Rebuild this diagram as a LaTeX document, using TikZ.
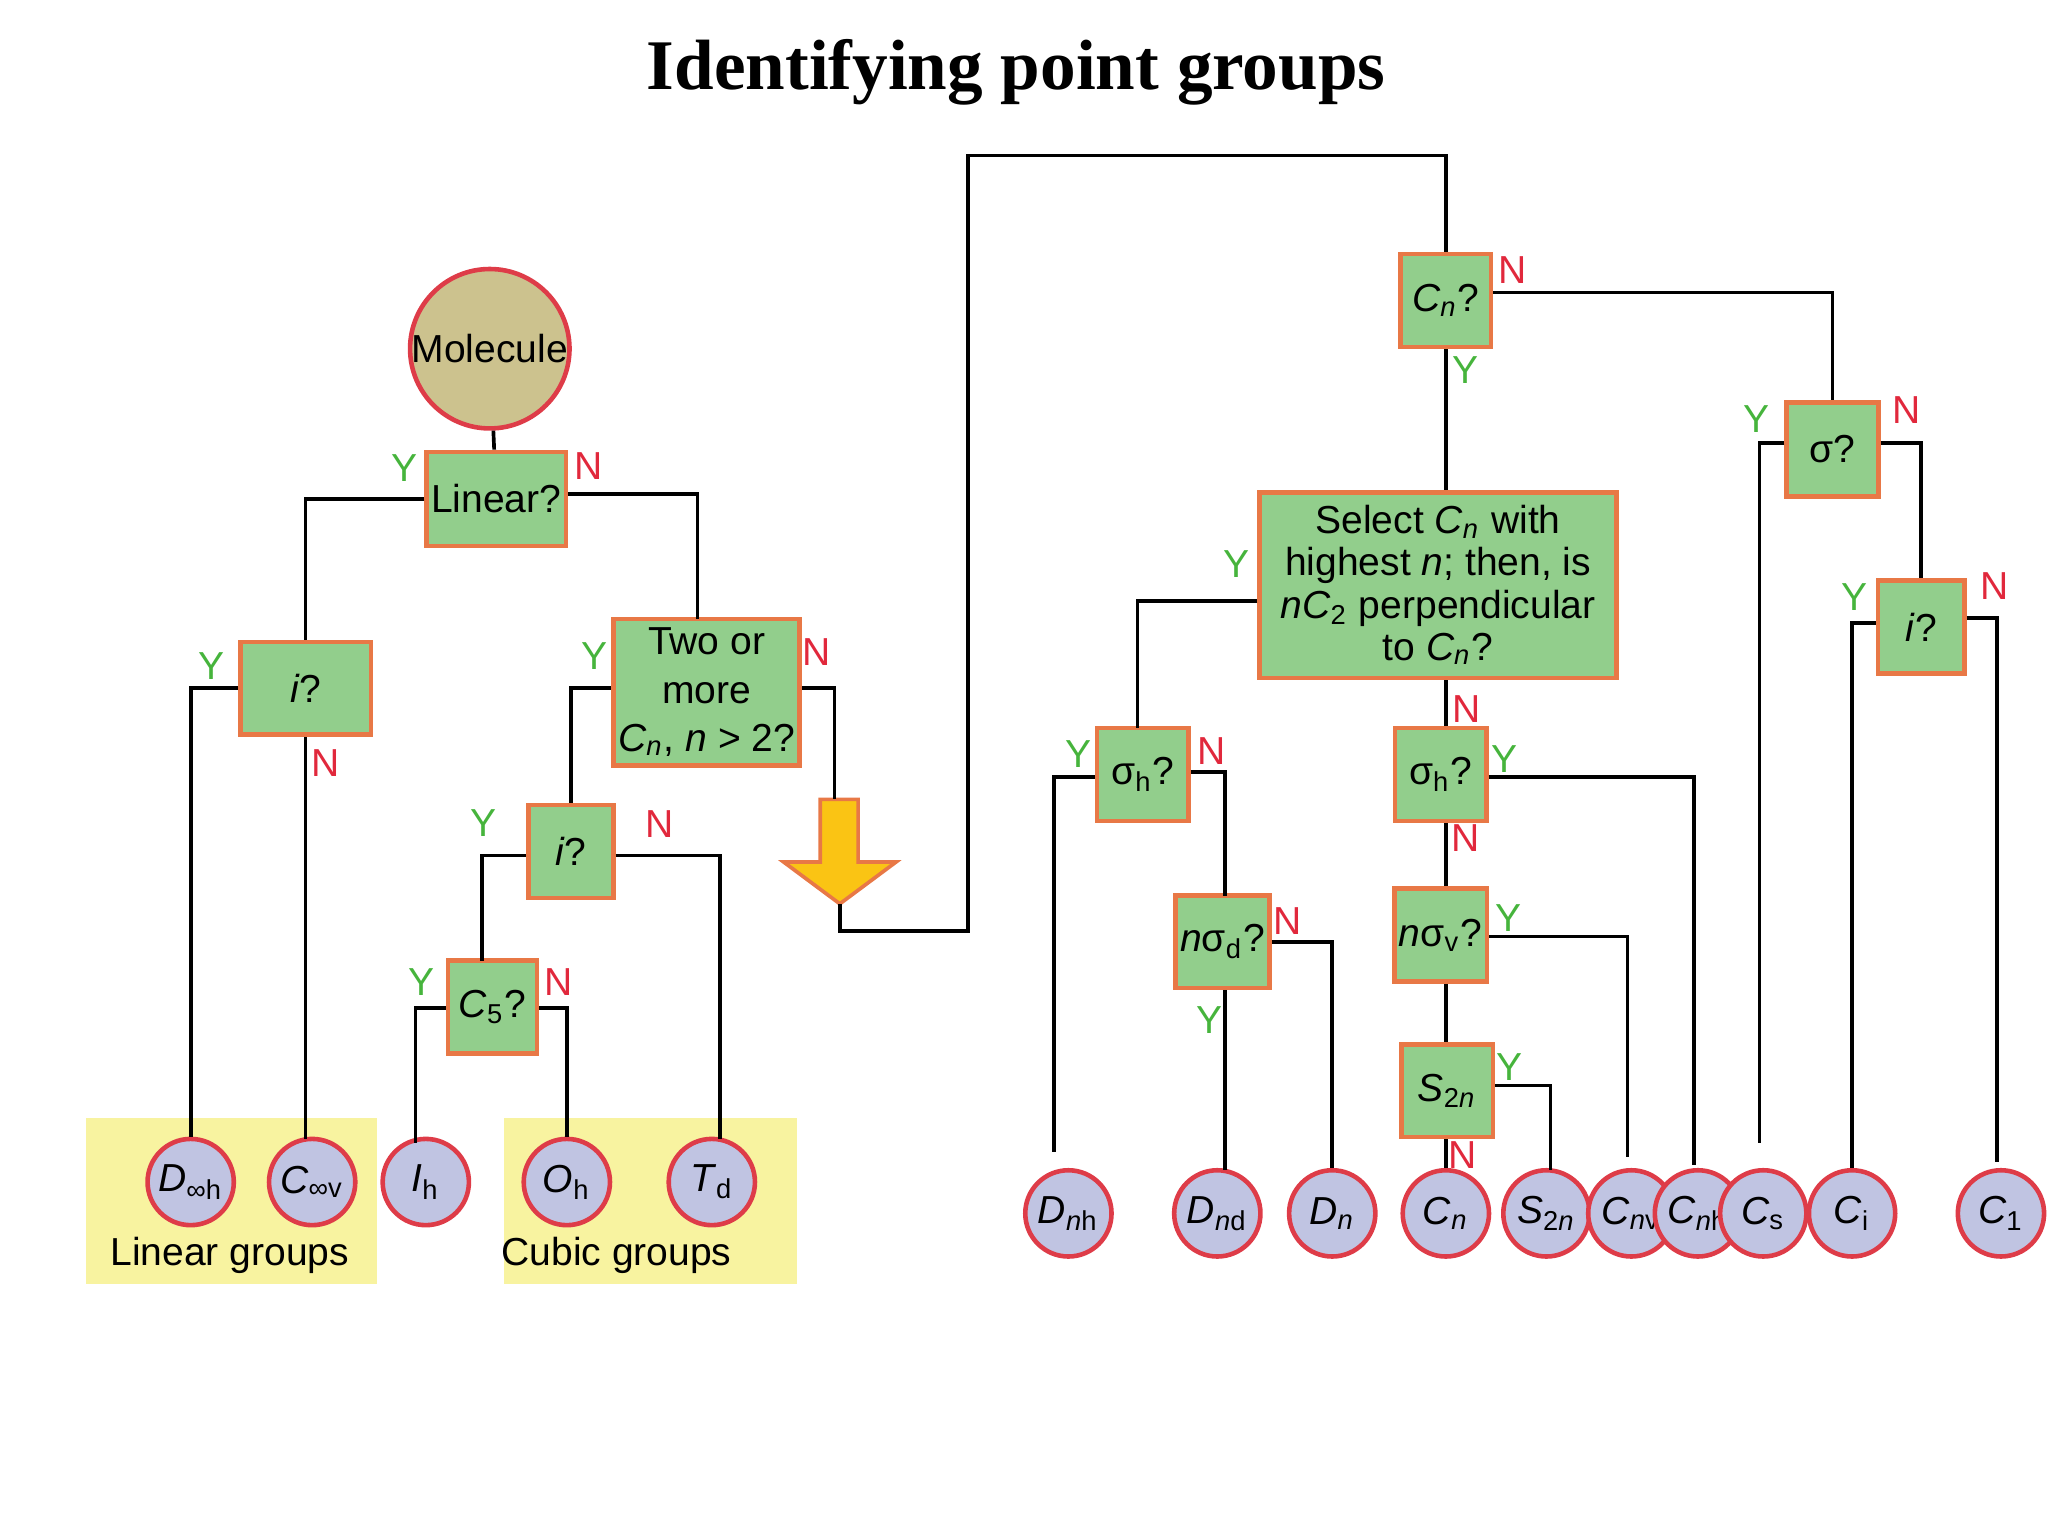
\documentclass[tikz,border=0pt]{standalone}
\usepackage{fontspec}
\setmainfont{Liberation Sans}
\newfontfamily\titlefont{Liberation Serif}
\usetikzlibrary{calc}
\definecolor{bfill}{RGB}{146,206,140}
\definecolor{bdraw}{RGB}{232,120,70}
\definecolor{cfill}{RGB}{192,196,226}
\definecolor{cdraw}{RGB}{222,60,72}
\definecolor{mfill}{RGB}{204,194,142}
\definecolor{yel}{RGB}{248,243,160}
\definecolor{ygreen}{RGB}{70,180,60}
\definecolor{nred}{RGB}{225,40,60}
\definecolor{arr}{RGB}{250,196,20}
\newcommand{\I}[1]{\textit{#1}}
\newcommand{\sub}[1]{\textsubscript{#1}}
\begin{document}
\begin{tikzpicture}[x=0.01cm,y=-0.01cm,
 box/.style={draw=bdraw,fill=bfill,line width=1pt,inner sep=1pt,align=center,font=\fontsize{8.5}{9.5}\selectfont},
 grp/.style={circle,draw=cdraw,fill=cfill,line width=1pt,minimum size=0.66cm,inner sep=0pt,font=\fontsize{8.5}{9.5}\selectfont},
 ln/.style={draw=black,line width=0.8pt},
 Y/.style={text=ygreen,font=\fontsize{8.5}{9.5}\selectfont},
 N/.style={text=nred,font=\fontsize{8.5}{9.5}\selectfont}]
\useasboundingbox (0,0) rectangle (1568,1176);
\node[font=\titlefont\bfseries\fontsize{15.5}{18}\selectfont] (title) at (778,55) {Identifying point groups};
% yellow areas
\fill[yel] (66,856) rectangle (289,983);
\fill[yel] (386,856) rectangle (610,983);
\node[font=\fontsize{8.5}{9.5}\selectfont] (lg) at (176,961) {Linear groups};
\node[font=\fontsize{8.5}{9.5}\selectfont] (cg) at (472,961) {Cubic groups};
% nodes
\node[circle,draw=cdraw,fill=mfill,line width=1pt,minimum size=1.22cm,inner sep=0pt,font=\fontsize{8.5}{9.5}\selectfont] (mol) at (375,267) {Molecule};
\node[box,minimum width=1cm,minimum height=0.72cm] (lin) at (380,382) {Linear?};
\node[box,minimum width=1cm,minimum height=0.71cm] (i1) at (234,527) {\I{i}?};
\node[box,minimum width=1.38cm,minimum height=1.12cm,font=\fontsize{8.5}{10.5}\selectfont] (two) at (541,530) {Two or\\more\\\I{C\sub{n}}, \I{n} > 2?};
\node[box,minimum width=0.65cm,minimum height=0.71cm] (i2) at (437,652) {\I{i}?};
\node[box,minimum width=0.68cm,minimum height=0.71cm] (c5) at (377,771) {\I{C}\sub{5}?};
\node[box,minimum width=0.69cm,minimum height=0.71cm] (cn) at (1107,230) {\I{C\sub{n}}?};
\node[box,minimum width=0.7cm,minimum height=0.72cm] (sig) at (1403,344) {σ?};
\node[box,minimum width=0.66cm,minimum height=0.71cm] (i3) at (1471,480) {\I{i}?};
\node[box,minimum width=2.73cm,minimum height=1.42cm,font=\fontsize{8.5}{9.2}\selectfont] (sel) at (1101,448) {Select \I{C\sub{n}} with\\highest \I{n}; then, is\\\I{nC}\sub{2} perpendicular\\to \I{C\sub{n}}?};
\node[box,minimum width=0.7cm,minimum height=0.71cm] (sh1) at (875,593) {σ\sub{h}?};
\node[box,minimum width=0.7cm,minimum height=0.71cm] (sh2) at (1103,593) {σ\sub{h}?};
\node[box,minimum width=0.7cm,minimum height=0.71cm] (nsd) at (936,721) {\I{n}σ\sub{d}?};
\node[box,minimum width=0.7cm,minimum height=0.71cm] (nsv) at (1103,716) {\I{n}σ\sub{v}?};
\node[box,minimum width=0.7cm,minimum height=0.71cm] (s2n) at (1108,835) {\I{S}\sub{2\I{n}}};
% group circles
\node[grp] (dinfh) at (146,905) {\I{D}\sub{∞h}};
\node[grp] (cinfv) at (239,905) {\I{C}\sub{∞v}};
\node[grp] (ih) at (326,905) {\I{I}\sub{h}};
\node[grp] (oh) at (434,905) {\I{O}\sub{h}};
\node[grp] (td) at (545,905) {\I{T}\sub{d}};
\node[grp] (dnh) at (818,929) {\I{D}\sub{\I{n}h}};
\node[grp] (dnd) at (932,929) {\I{D}\sub{\I{n}d}};
\node[grp] (dn) at (1020,929) {\I{D}\sub{\I{n}}};
\node[grp] (cnc) at (1107,929) {\I{C}\sub{\I{n}}};
\node[grp] (s2nc) at (1184,929) {\I{S}\sub{2\I{n}}};
\node[grp] (cnv) at (1249,929) {\I{C}\sub{\I{n}v}};
\node[grp] (cnh) at (1300,929) {\I{C}\sub{\I{n}h}};
\node[grp] (cs) at (1350,929) {\I{C}\sub{s}};
\node[grp] (ci) at (1418,929) {\I{C}\sub{i}};
\node[grp] (c1) at (1532,929) {\I{C}\sub{1}};
% yellow arrow
\fill[arr,draw=bdraw,line width=0.8pt] (628,612) -- (657,612) -- (657,660) -- (686,660) -- (643,692) -- (600,660) -- (628,660) -- cycle;
\coordinate (atip) at (643,692);
% connectors
\draw[ln] (mol) -- (lin);
\draw[ln] (lin.west) -| (i1.north);
\draw[ln] ([yshift=0.04cm]lin.east) -| (534,474);
\draw[ln] (i1.west) -| (dinfh.north);
\draw[ln] (i1.south) -- (234,872);
\draw[ln] ([yshift=0.03cm]two.west) -| (i2.north);
\draw[ln] ([yshift=0.03cm]two.east) -| (639,612);
\draw[ln] ([yshift=-0.03cm]i2.west) -| (369,736);
\draw[ln] ([yshift=-0.03cm]i2.east) -| (551,872);
\draw[ln] ([yshift=-0.01cm]c5.west) -| (318,875);
\draw[ln] ([yshift=-0.01cm]c5.east) -| (oh.north);
\draw[ln] (atip) -- (643,713) -- (741,713) -- (741,119) -- (1107,119) -- (cn.north);
\draw[ln] ([yshift=0.06cm]cn.east) -| (sig.north);
\draw[ln] (cn.south) -- (cn.south |- sel.north);
\draw[ln] ([yshift=0.05cm]sig.west) -| (1347,875);
\draw[ln] ([yshift=0.05cm]sig.east) -| (i3.north);
\draw[ln] ([yshift=0.03cm]i3.west) -| (ci.north);
\draw[ln] ([yshift=0.07cm]i3.east) -| (1529,890);
\draw[ln] ([yshift=-0.12cm]sel.west) -| (871,557);
\draw[ln] (sel.south -| 1107,0) -- (sh2.north -| 1107,0);
\draw[ln] ([yshift=-0.02cm]sh1.west) -| (807,882);
\draw[ln] ([yshift=0.02cm]sh1.east) -| (938,686);
\draw[ln] (nsd.south -| 938,0) -- (938,896);
\draw[ln] (nsd.east) -| (dn.north);
\draw[ln] ([yshift=-0.02cm]sh2.east) -| (1297,892);
\draw[ln] (sh2.south -| 1107,0) -- (nsv.north -| 1107,0);
\draw[ln] ([yshift=-0.01cm]nsv.east) -| (1246,886);
\draw[ln] (nsv.south -| 1107,0) -- (s2n.north -| 1107,0);
\draw[ln] ([yshift=0.04cm]s2n.east) -| (1187,896);
\draw[ln] (s2n.south -| 1107,0) -- (cnc.north);
% labels
\node[Y] (y1) at (310,358) {Y}; \node[N] (n1) at (451,357) {N};
\node[Y] (y2) at (162,510) {Y}; \node[N] (n2) at (249,584) {N};
\node[Y] (y3) at (455,502) {Y}; \node[N] (n3) at (625,499) {N};
\node[Y] (y4) at (370,630) {Y}; \node[N] (n4) at (505,631) {N};
\node[Y] (y5) at (323,752) {Y}; \node[N] (n5) at (428,752) {N};
\node[N] (n6) at (1158,207) {N}; \node[Y] (y6) at (1122,283) {Y};
\node[Y] (y7) at (1345,321) {Y}; \node[N] (n7) at (1460,314) {N};
\node[Y] (y8) at (1420,457) {Y}; \node[N] (n8) at (1527,449) {N};
\node[Y] (y9) at (947,432) {Y}; \node[N] (n9) at (1123,543) {N};
\node[Y] (y10) at (826,577) {Y}; \node[N] (n10) at (928,575) {N};
\node[Y] (y11) at (1152,581) {Y}; \node[N] (n11) at (1122,642) {N};
\node[N] (n12) at (986,705) {N}; \node[Y] (y12) at (926,781) {Y};
\node[Y] (y13) at (1155,703) {Y};
\node[Y] (y14) at (1156,817) {Y}; \node[N] (n14) at (1120,884) {N};
\end{tikzpicture}
\end{document}
